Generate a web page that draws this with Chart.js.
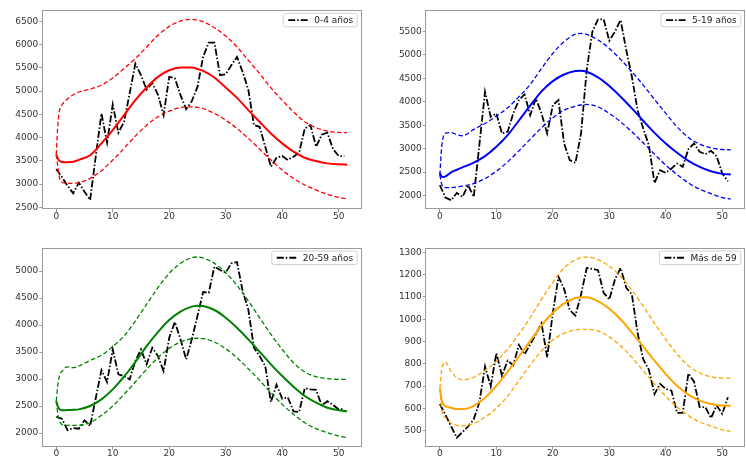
<!DOCTYPE html>
<html>
<head>
<meta charset="utf-8">
<script src="https://cdn.jsdelivr.net/npm/chart.js@4.4.1/dist/chart.umd.min.js"></script>
<style>
  html, body { margin: 0; padding: 0; background: #fff; width: 746px; height: 466px; overflow: hidden; }
  canvas { position: absolute; }
</style>
</head>
<body>
<canvas id="p04" width="373" height="233" style="left:0;top:0"></canvas>
<canvas id="p519" width="373" height="233" style="left:373px;top:0"></canvas>
<canvas id="p2059" width="373" height="233" style="left:0;top:233px"></canvas>
<canvas id="p59" width="373" height="233" style="left:373px;top:233px"></canvas>
<script>
// Epidemiological weeks of the observed series
const weeks = [0,1,2,3,4,5,6,7,8,9,10,11,12,13,14,15,16,17,18,19,20,21,22,23,24,25,
  26,27,28,29,30,31,32,33,34,35,36,37,38,39,40,41,42,43,44,45,46,47,48,49,50,51];

// Abscissae of the fitted curve and its band
const fitWeeks = [0,0.3,0.6,1,2,3,4,6,8,10,12,14,16,18,20,22,24,25,26,28,30,32,34,36,38,40,42,44,46,48,50,51.5];

// Tick values
const xTicks = [0,10,20,30,40,50];
const yTicks04 = [2500,3000,3500,4000,4500,5000,5500,6000,6500];
const yTicks519 = [2000,2500,3000,3500,4000,4500,5000,5500];
const yTicks2059 = [2000,2500,3000,3500,4000,4500,5000];
const yTicks59 = [500,600,700,800,900,1000,1100,1200,1300];

// 0-4 años
const obs04 = [3323,3150,2960,2800,3029,2836,2657,3600,4518,3888,4711,4103,4339,4950,5591,5341,5033,5176,4926,4482,
  5305,5276,4911,4611,4783,5090,5734,6042,6042,5341,5362,5555,5734,5412,5033,4267,4231,3802,3373,3566,
  3602,3516,3588,3673,4196,4267,3802,4060,4103,3752,3602,3602];
const fit04 = [3630,3540,3495,3475,3470,3480,3520,3620,3874,4160,4482,4804,5076,5305,5448,5505,5505,5475,5434,5291,
  5076,4854,4589,4339,4088,3874,3695,3566,3494,3444,3423,3416];
const up04 = [3638,4300,4600,4700,4830,4920,4980,5040,5130,5280,5484,5699,5949,6199,6393,6507,6543,6525,6493,6364,
  6185,5949,5663,5376,5069,4804,4554,4339,4210,4139,4110,4105];
const lo04 = [3638,3350,3120,3045,3012,3015,3030,3122,3287,3516,3766,4031,4267,4446,4568,4647,4661,4650,4625,4518,
  4375,4196,3981,3752,3516,3301,3122,2979,2872,2779,2714,2679];

// 5-19 años
const obs519 = [2220,1957,1900,2057,1972,2220,1972,3080,4212,3679,3750,3323,3359,3750,4035,4155,3714,4070,3750,3323,
  3928,4035,3110,2754,2697,3323,4675,5493,5756,5756,5301,5493,5742,5102,4532,3821,3430,3074,2270,2541,
  2484,2576,2683,2612,2989,3110,2932,2882,2953,2839,2470,2306];
const fit519 = [2480,2410,2395,2410,2495,2550,2600,2700,2840,3039,3288,3600,3915,4220,4440,4580,4653,4660,4639,4518,
  4333,4106,3857,3594,3337,3110,2911,2740,2612,2519,2462,2448];
const up519 = [2440,3000,3250,3330,3340,3300,3275,3410,3537,3693,3871,4106,4369,4710,5030,5279,5440,5455,5436,5315,
  5137,4902,4639,4355,4049,3750,3465,3238,3096,3017,2982,2975];
const lo519 = [2440,2256,2185,2171,2171,2180,2199,2256,2363,2519,2718,2953,3202,3444,3657,3821,3906,3930,3942,3892,
  3750,3572,3359,3124,2882,2647,2448,2270,2135,2043,1957,1922];

// 20-59 años
const obs2059 = [2302,2265,2055,2093,2080,2235,2130,2648,3167,2944,3549,3086,3055,2994,3333,3549,3272,3580,3426,3148,
  3765,4056,3735,3364,3735,4167,4611,4599,5080,5019,4969,5142,5167,4630,4290,3580,3426,3241,2574,2895,
  2636,2660,2400,2390,2830,2810,2800,2510,2590,2520,2440,2440];
const fit2059 = [2593,2488,2438,2420,2426,2430,2438,2500,2623,2809,3043,3315,3611,3870,4093,4247,4340,4358,4352,4278,
  4136,3951,3735,3506,3272,3055,2858,2685,2562,2469,2420,2401];
const up2059 = [2593,2901,3070,3140,3225,3210,3241,3345,3440,3600,3796,4074,4383,4691,4957,5142,5247,5259,5241,5142,
  4969,4735,4444,4136,3827,3549,3302,3130,3043,3006,2994,2994];
const lo2059 = [2593,2346,2222,2160,2142,2140,2142,2191,2327,2500,2716,2944,3179,3395,3568,3685,3747,3755,3747,3685,
  3562,3395,3191,2975,2747,2531,2346,2191,2080,2006,1944,1914];

// Más de 59
const obs59 = [620,571,519,469,494,519,551,628,788,699,848,747,814,794,885,843,888,933,982,829,
  1029,1190,1136,1041,1017,1111,1230,1226,1220,1119,1089,1178,1230,1141,1111,940,821,774,665,710,
  687,680,580,580,757,720,606,606,557,613,576,650];
const fit59 = [690,640,619,610,603,597,597,612,648,701,765,833,903,973,1029,1071,1095,1099,1099,1081,
  1047,1000,940,878,814,754,702,662,635,620,613,612];
const up59 = [690,770,800,808,765,738,728,740,770,812,866,933,1007,1089,1166,1230,1267,1276,1279,1267,
  1238,1193,1130,1059,982,910,844,791,759,742,736,736];
const lo59 = [690,600,570,558,534,524,522,533,561,601,655,725,795,858,907,937,952,955,955,948,
  921,881,829,769,710,655,606,568,539,521,504,497];

const FONT = '"DejaVu Sans", sans-serif';
Chart.defaults.font.family = FONT;
Chart.defaults.font.size = 9;

const OBS_DASH = [7, 2, 1.5, 2];

// Full rectangular frame around the plotting area
const framePlugin = {
  id: 'frame',
  afterDatasetsDraw(chart) {
    const { ctx, chartArea: a } = chart;
    ctx.save();
    ctx.strokeStyle = '#9a9a9a';
    ctx.lineWidth = 1;
    const l = Math.round(a.left) + 0.5, t = Math.round(a.top) + 0.5;
    const r = Math.round(a.right) - 0.5, b = Math.round(a.bottom) - 0.5;
    ctx.strokeRect(l, t, r - l, b - t);
    ctx.restore();
  }
};

// Legend box in the upper-right corner of the plotting area
const cornerLegend = {
  id: 'cornerLegend',
  afterDraw(chart) {
    const { ctx, chartArea: a } = chart;
    const ds = chart.data.datasets[0];
    ctx.save();
    ctx.font = '9px ' + FONT;
    const tw = ctx.measureText(ds.label).width;
    const w = 5 + 20 + 6 + tw + 4, h = 13.5;
    const x = a.right - 4.5 - w, y = a.top + 3;
    ctx.beginPath();
    ctx.roundRect(x, y, w, h, 2);
    ctx.fillStyle = 'rgba(255,255,255,0.85)';
    ctx.fill();
    ctx.strokeStyle = '#d0d0d0';
    ctx.lineWidth = 1;
    ctx.stroke();
    ctx.beginPath();
    ctx.setLineDash(OBS_DASH);
    ctx.strokeStyle = '#000';
    ctx.lineWidth = 1.8;
    ctx.moveTo(x + 5, y + h / 2);
    ctx.lineTo(x + 25, y + h / 2);
    ctx.stroke();
    ctx.setLineDash([]);
    ctx.fillStyle = '#222';
    ctx.textBaseline = 'middle';
    ctx.textAlign = 'left';
    ctx.fillText(ds.label, x + 31, y + h / 2 + 0.5);
    ctx.restore();
  }
};

function pts(xs, ys) { return xs.map((x, i) => ({ x, y: ys[i] })); }

function panel(id, p) {
  const curve = (values, width, dash, order) => ({
    data: pts(fitWeeks, values), borderColor: p.color, borderWidth: width, borderDash: dash,
    pointRadius: 0, cubicInterpolationMode: 'monotone', fill: false, order
  });
  new Chart(document.getElementById(id), {
    type: 'line',
    data: {
      datasets: [
        { label: p.label, data: pts(weeks, p.obs), borderColor: '#000', borderWidth: 1.8,
          borderDash: OBS_DASH, pointRadius: 0, tension: 0, fill: false, order: 4 },
        curve(p.fit, 2, [], 1),
        curve(p.up, 1.3, [4.5, 2.5], 2),
        curve(p.lo, 1.3, [4.5, 2.5], 3)
      ]
    },
    options: {
      responsive: false, animation: false, events: [],
      layout: { padding: { top: p.top, right: p.right, left: 0, bottom: 0 } },
      scales: {
        x: {
          type: 'linear', min: -2.575, max: 54.075,
          afterBuildTicks(s) { s.ticks = xTicks.map(v => ({ value: v })); },
          ticks: { color: '#333', padding: -1, maxRotation: 0, autoSkip: false },
          grid: { drawOnChartArea: false, drawTicks: true, tickLength: 3, color: '#9a9a9a', tickColor: '#9a9a9a' },
          border: { display: false },
          afterFit(s) { s.height = p.xh; }
        },
        y: {
          type: 'linear', min: p.ymin, max: p.ymax,
          afterBuildTicks(s) { s.ticks = p.yticks.map(v => ({ value: v })); },
          ticks: { color: '#333', padding: 1, autoSkip: false, callback: v => String(v) },
          grid: { drawOnChartArea: false, drawTicks: true, tickLength: 2.5, color: '#9a9a9a', tickColor: '#9a9a9a' },
          border: { display: false },
          afterFit(s) { s.width = p.yw; }
        }
      },
      plugins: { legend: { display: false }, tooltip: { enabled: false } }
    },
    plugins: [framePlugin, cornerLegend]
  });
}

panel('p04',   { label: '0-4 años',   obs: obs04,   fit: fit04,   up: up04,   lo: lo04,   color: '#ff0000',
  yticks: yTicks04, ymin: 2456, ymax: 6738, top: 10.3, right: 11.3, yw: 41.7, xh: 23.7 });
panel('p519',  { label: '5-19 años',  obs: obs519,  fit: fit519,  up: up519,  lo: lo519,  color: '#0000ff',
  yticks: yTicks519, ymin: 1707, ymax: 5949, top: 10.3, right: 0.7, yw: 52.3, xh: 23.7 });
panel('p2059', { label: '20-59 años', obs: obs2059, fit: fit2059, up: up2059, lo: lo2059, color: '#008000',
  yticks: yTicks2059, ymin: 1747, ymax: 5426, top: 15, right: 11.3, yw: 41.7, xh: 19.3 });
panel('p59',   { label: 'Más de 59',  obs: obs59,   fit: fit59,   up: up59,   lo: lo59,   color: '#ffa500',
  yticks: yTicks59, ymin: 428.5, ymax: 1319.5, top: 15, right: 0.7, yw: 52.3, xh: 19.3 });
</script>
</body>
</html>
